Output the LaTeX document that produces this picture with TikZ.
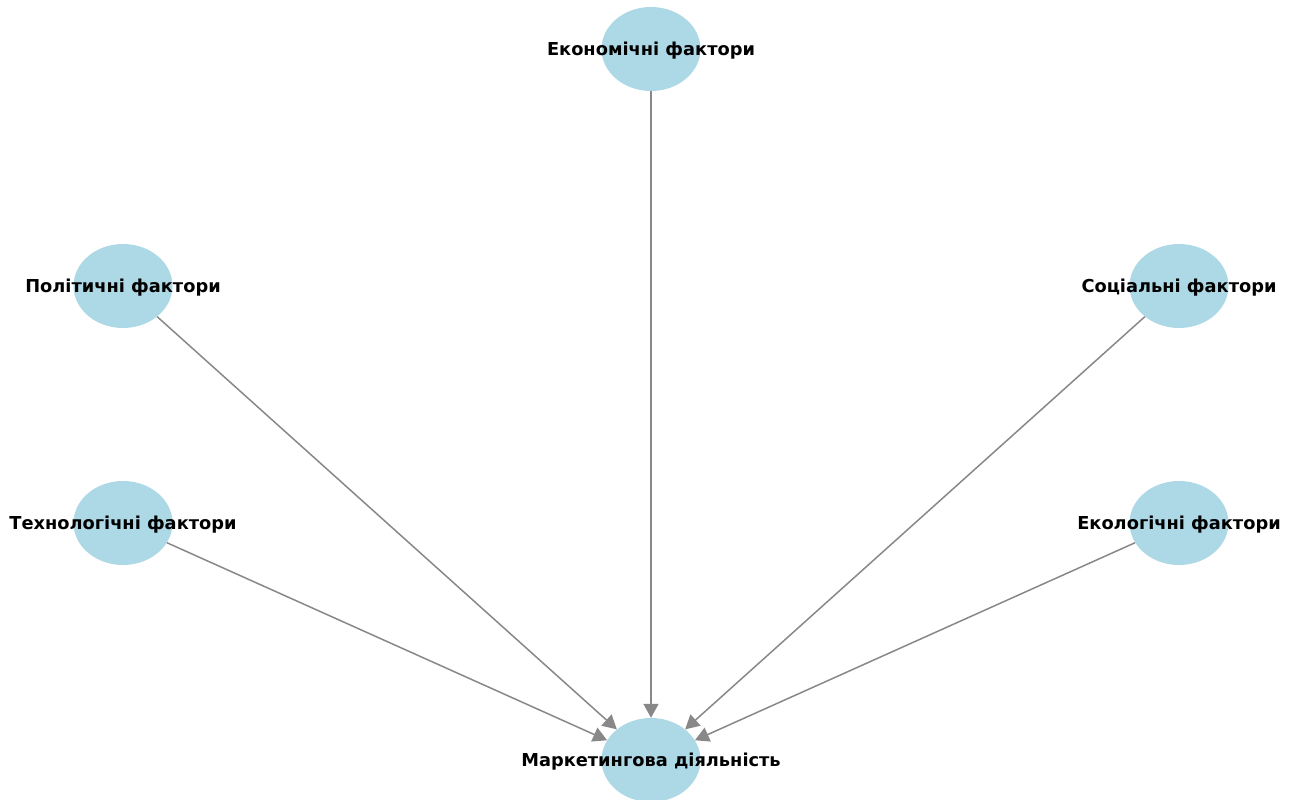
\documentclass[tikz,border=0pt]{standalone}
\usepackage{fontspec}
\setmainfont{DejaVu Sans}
\usetikzlibrary{shapes.geometric,arrows.meta}
\definecolor{nodeblue}{HTML}{ADD8E6}
\definecolor{edgegray}{HTML}{888888}
\tikzset{
  fnode/.style={ellipse, fill=nodeblue, draw=none, minimum width=99pt, minimum height=84pt, inner sep=0pt},
  lbl/.style={font=\fontsize{17.8}{20}\selectfont\bfseries, text=black, inner sep=0pt, yshift=-1.5pt},
  edge/.style={draw=edgegray, line width=1.5pt, -{Triangle[length=14pt,width=15pt]}, shorten >=0pt}
}
\begin{document}
\begin{tikzpicture}[x=1pt,y=-1pt]
\useasboundingbox (0,0) rectangle (1294,800);
\node[fnode] (eco) at (651,49) {};
\node[fnode] (pol) at (123,286) {};
\node[fnode] (soc) at (1179,286) {};
\node[fnode] (tech) at (123,523) {};
\node[fnode] (ecol) at (1179,523) {};
\node[fnode] (mkt) at (651,760) {};
\draw[edge] (eco) -- (mkt);
\draw[edge] (pol) -- (mkt);
\draw[edge] (soc) -- (mkt);
\draw[edge] (tech) -- (mkt);
\draw[edge] (ecol) -- (mkt);
\node[lbl] at (eco) {Економічні фактори};
\node[lbl] at (pol) {Політичні фактори};
\node[lbl] at (soc) {Соціальні фактори};
\node[lbl] at (tech) {Технологічні фактори};
\node[lbl] at (ecol) {Екологічні фактори};
\node[lbl] at (mkt) {Маркетингова діяльність};
\end{tikzpicture}
\end{document}
